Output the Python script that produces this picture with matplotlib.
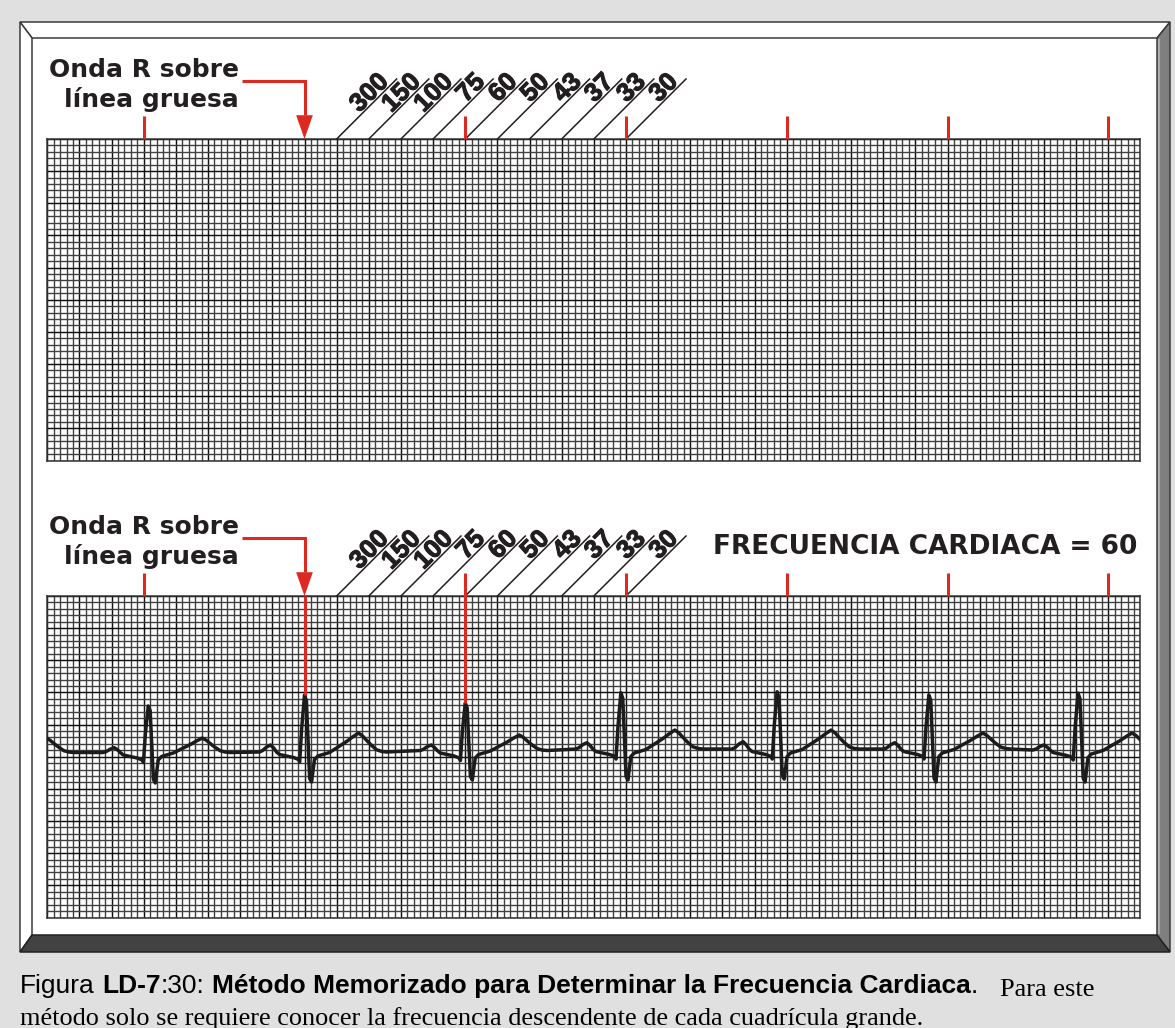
import matplotlib
matplotlib.use('Agg')
import matplotlib.pyplot as plt
import matplotlib.patheffects as pe
import numpy as np
from matplotlib.patches import Polygon

# --- data -------------------------------------------------------------
# rate reached when the next R falls on the n-th thick line after the first R
rates = [300, 150, 100, 75, 60, 50, 43, 37, 33, 30]
# thick lines (mm) carrying the red marks above the paper
mark_x = [15, 40, 65, 90, 115, 140, 165]
first_r = 40      # thick line under the arrow
next_r = 65       # thick line of the next R (-> 60)
heart_rate = 60

# ECG strip (bottom panel), mm units, one entry per beat (first beat is off the strip)
r_x = [-8.6, 15.7, 40.0, 65.0, 89.2, 113.5, 137.1, 160.3]
base_y = [25.66, 25.66, 25.74, 25.97, 26.2, 26.2, 26.2, 26.05]
r_amp = [7.2, 7.23, 8.86, 7.39, 8.76, 8.91, 8.4, 8.86]
s_amp = [-4.7, -4.74, -4.67, -4.59, -4.82, -4.67, -5.13, -4.98]
t_amp = [2.25, 2.25, 2.95, 2.41, 2.95, 2.95, 2.49, 2.64]
p_amp = [0.9, 0.75, 1.09, 0.86, 0.98, 1.14, 0.98, 0.78]

# beat shape: time from R peak (mm), wave it belongs to, fraction of that wave
tpl_t = [-7.00, -6.53, -5.91, -5.29, -4.82, -4.35, -3.89, -2.80, -1.71, -0.93, -0.75,
         -0.45, 0.0, 0.3, 0.8, 1.1, 1.55, 2.08, 3.11, 3.89, 4.67, 5.44, 6.53,
         7.47, 8.40, 9.02, 9.64, 10.42, 11.20, 11.98, 12.75]
tpl_w = ['B', 'P', 'P', 'P', 'P', 'P', 'B', 'B', 'B', 'B', 'B',
         'R', 'R', 'R', 'S', 'S', 'B', 'B', 'B', 'B', 'T', 'T', 'T',
         'T', 'T', 'T', 'T', 'T', 'T', 'T', 'B']
tpl_v = [0, 0.2, 0.7, 1.0, 0.6, 0.0, -0.39, -0.62, -0.86, -1.17, -1.56,
         0.4, 1.0, 0.9, 0.88, 1.0, -1.17, -0.62, -0.31, -0.08, 0.14, 0.31, 0.55,
         0.79, 1.0, 0.85, 0.62, 0.35, 0.12, 0.03, 0]

INK = '#231f20'
RED = '#dc2a22'
SQ = 6.43  # px per small square
BOLD = 'DejaVu Sans'

W, H = 1175, 1028
fig = plt.figure(figsize=(W / 100, H / 100), dpi=100)
fig.patch.set_facecolor('#e0e0e0')

ax0 = fig.add_axes([0, 0, 1, 1])
ax0.set_xlim(0, W)
ax0.set_ylim(H, 0)
ax0.axis('off')

# frame with bevels
L, T, R, B = 20, 22, 1170, 952
l, t, r, b = 32, 38, 1157, 935
ax0.add_patch(Polygon([(l, t), (r, t), (r, b), (l, b)], closed=True, fc='white', ec='none'))
ax0.add_patch(Polygon([(L, T), (R, T), (r, t), (l, t)], closed=True, fc='white', ec='#3a3a3a', lw=1.1))
ax0.add_patch(Polygon([(L, T), (l, t), (l, b), (L, B)], closed=True, fc='white', ec='#3a3a3a', lw=1.1))
ax0.add_patch(Polygon([(R, T), (R, B), (r, b), (r, t)], closed=True, fc='#7f7f7f', ec='#3a3a3a', lw=1.1))
ax0.plot([r + 1.5, r + 1.5], [t + 2, b - 2], color='#ababab', lw=1.6)
ax0.add_patch(Polygon([(L, B), (R, B), (r, b), (l, b)], closed=True, fc='#424242', ec='#222222', lw=1.1))

heavy = [pe.withStroke(linewidth=0.8, foreground=INK)]


def make_panel(top_px, with_trace):
    ax = fig.add_axes([47.3 / W, 1 - (top_px + 50 * SQ) / H, 170 * SQ / W, 50 * SQ / H])
    ax.set_xlim(0, 170)
    ax.set_ylim(0, 50)
    ax.set_facecolor('white')
    ax.set_xticks(np.arange(0, 171, 5))
    ax.set_yticks(np.arange(0, 51, 5))
    ax.set_xticks(np.arange(0, 171, 1), minor=True)
    ax.set_yticks(np.arange(0, 51, 1), minor=True)
    ax.tick_params(which='both', length=0, labelbottom=False, labelleft=False)
    ax.grid(which='minor', color='#404040', lw=1.0)
    ax.grid(which='major', color='#111111', lw=1.05)
    for s in ax.spines.values():
        s.set_color('#333333')
        s.set_linewidth(1.1)

    # red marks on the thick lines
    for mx in mark_x:
        if mx == first_r:
            continue
        y_end = 50
        if with_trace and mx == next_r:
            k = r_x.index(65.0)
            y_end = base_y[k] + r_amp[k]
        ax.plot([mx, mx], [53.6, y_end], color=RED, lw=2.2, solid_capstyle='butt', clip_on=False, zorder=5)

    # arrow from the label
    ax.plot([30.3, first_r, first_r], [59.0, 59.0, 53.7], color=RED, lw=2.2,
            solid_joinstyle='miter', solid_capstyle='butt', clip_on=False, zorder=5)
    ax.add_patch(Polygon([(first_r - 1.3, 53.7), (first_r + 1.3, 53.7), (first_r, 50)], closed=True,
                         fc=RED, ec='none', clip_on=False, zorder=5))
    if with_trace:
        k = r_x.index(40.0)
        ax.plot([first_r, first_r], [50, base_y[k] + r_amp[k]], color=RED, lw=2.2,
                solid_capstyle='butt', clip_on=False, zorder=5)

    ax.text(29.8, 59.64, 'Onda R sobre', ha='right', va='baseline', fontsize=18,
            fontweight='bold', family=BOLD, color=INK)
    ax.text(29.8, 54.98, 'línea gruesa', ha='right', va='baseline', fontsize=18,
            fontweight='bold', family=BOLD, color=INK)

    # diagonal rate scale
    d = 9.33
    for k, rate in enumerate(rates):
        x0 = first_r + 5 * (k + 1)
        ax.plot([x0, x0 + d], [50, 50 + d], color=INK, lw=1.1, clip_on=False, zorder=4)
        ax.text(x0 + 8.24, 58.74, str(rate), rotation=45, rotation_mode='anchor',
                ha='right', va='baseline', fontsize=18.5, fontweight='bold',
                family='Liberation Sans', color=INK, path_effects=heavy)

    if with_trace:
        ax.text(169.5, 56.5, 'FRECUENCIA CARDIACA = %d' % heart_rate, ha='right', va='baseline',
                fontsize=19, fontweight='bold', family=BOLD, color=INK)
        xs, ys = [], []
        for i in range(len(r_x)):
            amp = {'P': p_amp[i], 'R': r_amp[i], 'S': s_amp[i], 'T': t_amp[i]}
            for tt, w, v in zip(tpl_t, tpl_w, tpl_v):
                xs.append(r_x[i] + tt)
                if w == 'B':
                    ys.append(base_y[i] + v)
                else:
                    ys.append(base_y[i] + v * amp[w])
        ax.plot(xs, ys, color='#1c1c1c', lw=2.5, solid_joinstyle='round', zorder=3)
    return ax


make_panel(139, False)
make_panel(596, True)

# caption
fig.canvas.draw()
rend = fig.canvas.get_renderer()


def run(x, y, s, fam, weight, size):
    tx = ax0.text(x, y, s, ha='left', va='baseline', fontsize=size, fontweight=weight,
                  family=fam, color='black')
    return x + tx.get_window_extent(rend).width


fs = 19
sp = 0.278 * fs * 100 / 72
x = run(20, 993, 'Figura', 'Liberation Sans', 'normal', fs) + sp
x = run(x, 993, 'LD-7', 'Liberation Sans', 'bold', fs)
x = run(x, 993, ':30:', 'Liberation Sans', 'normal', fs) + sp
x = run(x, 993, 'Método Memorizado para Determinar la Frecuencia Cardiaca', 'Liberation Sans', 'bold', fs)
run(x, 993, '.', 'Liberation Sans', 'normal', fs)
run(1000, 996, 'Para este', 'Liberation Serif', 'normal', 19)
run(20, 1025, 'método solo se requiere conocer la frecuencia descendente de cada cuadrícula grande.',
    'Liberation Serif', 'normal', 18.9)

fig.savefig('out.png', dpi=100, facecolor=fig.get_facecolor())
